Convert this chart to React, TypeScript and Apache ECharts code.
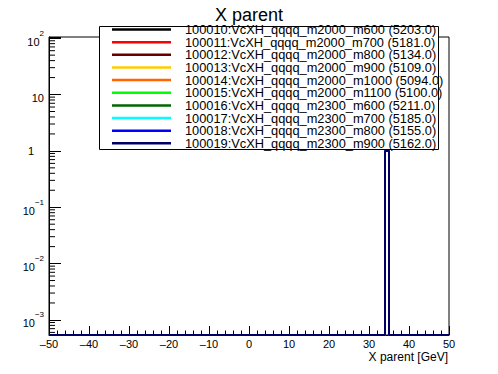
import React, { useEffect, useRef } from "react";
import * as echarts from "echarts";

const FONT = "Liberation Sans";

const seriesNames = [
  "100010:VcXH_qqqq_m2000_m600 (5203.0)",
  "100011:VcXH_qqqq_m2000_m700 (5181.0)",
  "100012:VcXH_qqqq_m2000_m800 (5134.0)",
  "100013:VcXH_qqqq_m2000_m900 (5109.0)",
  "100014:VcXH_qqqq_m2000_m1000 (5094.0)",
  "100015:VcXH_qqqq_m2000_m1100 (5100.0)",
  "100016:VcXH_qqqq_m2300_m600 (5211.0)",
  "100017:VcXH_qqqq_m2300_m700 (5185.0)",
  "100018:VcXH_qqqq_m2300_m800 (5155.0)",
  "100019:VcXH_qqqq_m2300_m900 (5162.0)",
];
const seriesColors = [
  "#000000",
  "#ff0000",
  "#660000",
  "#ffcc00",
  "#ff6600",
  "#00ff00",
  "#006600",
  "#00ffff",
  "#0000ff",
  "#000066",
];
// histogram binning: 100 bins of width 1 from -50 to 50
const xLow = -50;
const xHigh = 50;
const binWidth = 1;
// all entries fall in the bin [34, 35), normalised to 1
const peakBinLow = 34;
const peakValues = [1, 1, 1, 1, 1, 1, 1, 1, 1, 1];
const yMin = 5.4e-4;
const yMax = 105;
const xTicks = [-50, -40, -30, -20, -10, 0, 10, 20, 30, 40, 50];

function buildHist(peak: number): [number, number][] {
  const pts: [number, number][] = [];
  const n = Math.round((xHigh - xLow) / binWidth);
  for (let i = 0; i < n; i++) {
    const x = xLow + i * binWidth;
    pts.push([x, x === peakBinLow ? peak : yMin]);
  }
  pts.push([xHigh, pts[pts.length - 1][1]]);
  return pts;
}

function minorLogTicks(): [number, number][] {
  const out: [number, number][] = [];
  for (let e = -4; e <= 2; e++) {
    for (let m = 2; m <= 9; m++) {
      const v = m * Math.pow(10, e);
      if (v > yMin && v < yMax) out.push([xLow, v]);
    }
  }
  return out;
}

export default function App() {
  const ref = useRef<HTMLDivElement>(null);
  useEffect(() => {
    if (!ref.current) return;
    const chart = echarts.init(ref.current, undefined, { renderer: "svg" });
    const lineSeries = seriesNames.map((name, i) => ({
      name,
      type: "line",
      step: "end",
      data: buildHist(peakValues[i]),
      symbol: "none",
      color: seriesColors[i],
      lineStyle: { color: seriesColors[i], width: 2 },
      z: 2 + i * 0.01,
    }));
    chart.setOption({
      animation: false,
      backgroundColor: "#ffffff",
      textStyle: { fontFamily: FONT },
      title: {
        text: "X parent",
        left: "center",
        top: 1,
        textStyle: { fontFamily: FONT, fontSize: 18, fontWeight: "normal", color: "#000" },
      },
      grid: {
        left: 49,
        right: 49,
        top: 37,
        bottom: 39,
        show: true,
        borderColor: "#000",
        borderWidth: 1,
        backgroundColor: "transparent",
      },
      legend: {
        data: seriesNames,
        orient: "vertical",
        left: 99,
        top: 23,
        padding: [0, 0, 0, 13],
        itemWidth: 59,
        itemHeight: 2.5,
        itemGap: -0.35,
        icon: "rect",
        selectedMode: false,
        z: 5,
        textStyle: {
          fontFamily: FONT,
          fontSize: 12.8,
          color: "#000",
          lineHeight: 12.3,
          padding: [0, 0, 0, 9],
        },
      },
      graphic: [
        {
          type: "rect",
          z: 4,
          shape: { x: 99.5, y: 26.5, width: 339, height: 123 },
          style: { fill: "#ffffff", stroke: "#000", lineWidth: 1 },
        },
      ],
      xAxis: {
        type: "value",
        min: xLow,
        max: xHigh,
        interval: 10,
        name: "X parent [GeV]",
        nameLocation: "end",
        nameGap: -1,
        nameTextStyle: {
          fontFamily: FONT,
          fontSize: 12,
          color: "#000",
          align: "right",
          verticalAlign: "top",
          padding: [16, 0, 0, 0],
        },
        axisLine: { show: true, onZero: false, lineStyle: { color: "#000", width: 1 } },
        axisTick: { show: true, inside: true, length: 9, lineStyle: { color: "#000" } },
        minorTick: { show: true, splitNumber: 5, length: 4.5, lineStyle: { color: "#000" } },
        splitLine: { show: false },
        axisLabel: {
          margin: 3,
          fontFamily: FONT,
          fontSize: 11,
          color: "#000",
          formatter: (v: number) => (xTicks.includes(v) ? String(v).replace("-", "\u2013") : ""),
        },
      },
      yAxis: {
        type: "log",
        logBase: 10,
        min: yMin,
        max: yMax,
        axisLine: { show: true, onZero: false, lineStyle: { color: "#000", width: 1 } },
        axisTick: { show: true, inside: true, length: 12, lineStyle: { color: "#000" } },
        splitLine: { show: false },
        axisLabel: {
          margin: 5,
          fontFamily: FONT,
          fontSize: 11,
          color: "#000",
          formatter: (v: number) => {
            const l = Math.log10(v);
            const e = Math.round(l);
            if (Math.abs(l - e) > 1e-6) return "";
            if (e === 0) return "{one|1}";
            if (e === 1) return "{b|10}";
            return "{b|10}{s|" + String(e).replace("-", "\u2212") + "}";
          },
          rich: {
            b: { fontFamily: FONT, fontSize: 11, color: "#000", verticalAlign: "bottom", lineHeight: 18 },
            s: { fontFamily: FONT, fontSize: 8, color: "#000", verticalAlign: "top", lineHeight: 18 },
            one: { fontFamily: FONT, fontSize: 11, color: "#000", padding: [0, 10, 0, 0] },
          },
        },
      },
      series: [
        ...lineSeries,
        {
          type: "custom",
          silent: true,
          z: 3,
          data: minorLogTicks(),
          renderItem: (params: any, api: any) => {
            const p = api.coord([api.value(0), api.value(1)]);
            return {
              type: "line",
              shape: { x1: p[0], y1: p[1], x2: p[0] + 6, y2: p[1] },
              style: { stroke: "#000", lineWidth: 1 },
            };
          },
        },
      ],
    });
    return () => chart.dispose();
  }, []);
  return <div ref={ref} style={{ width: 498, height: 374, marginLeft: -8, marginTop: -8 }} />;
}
